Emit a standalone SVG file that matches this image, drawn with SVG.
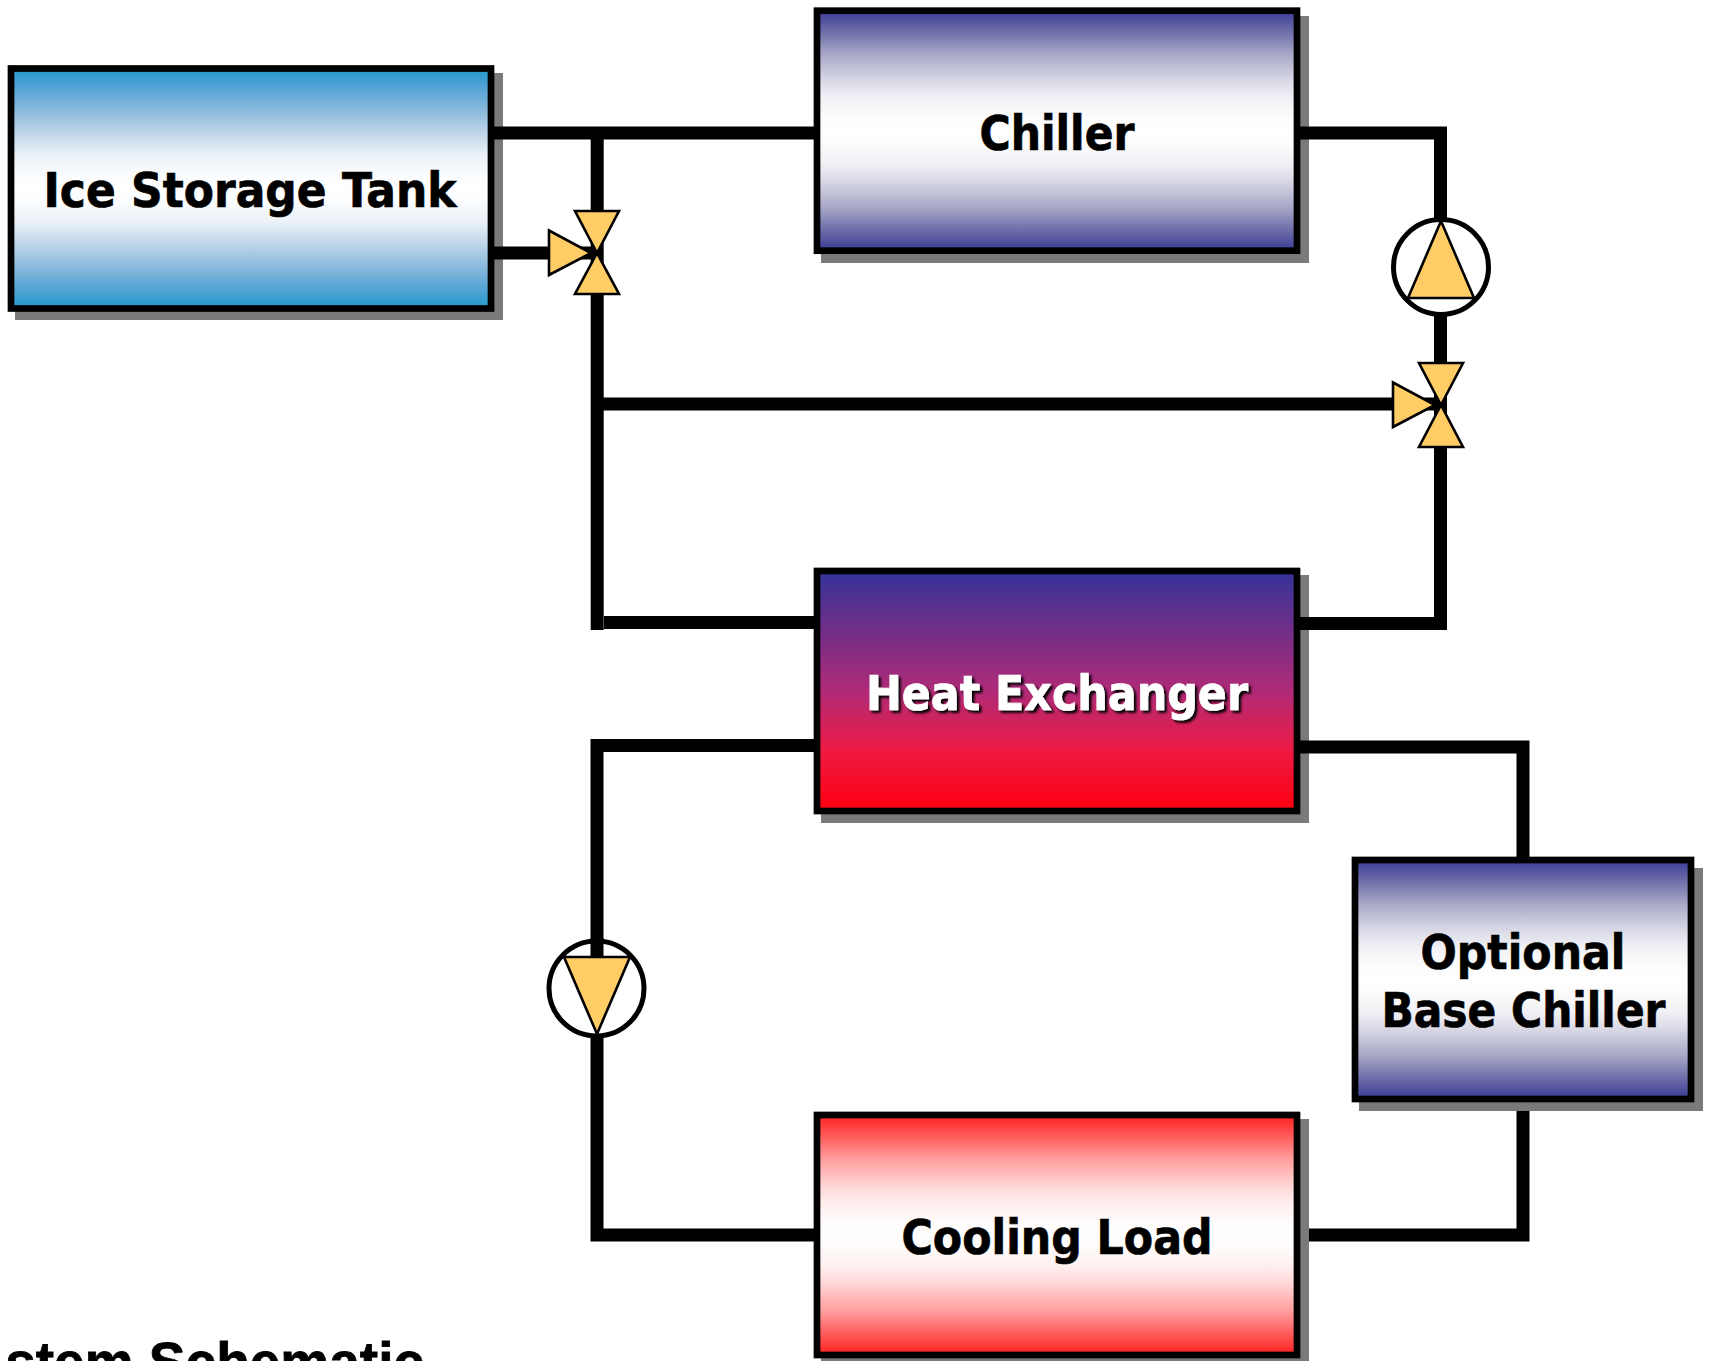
<svg xmlns="http://www.w3.org/2000/svg" width="1714" height="1361" viewBox="0 0 1714 1361">
<style>
.shadow{fill:#7a7a7a}
.box{stroke:#000;stroke-width:6.7}
.lbl{font-family:"DejaVu Sans","Liberation Sans",sans-serif;font-weight:700;font-size:48px;text-anchor:middle;fill:#000;stroke:#000;stroke-width:.7}
.pipe{fill:none;stroke:#000;stroke-width:13;stroke-linejoin:miter}
.tri{fill:#ffcc66;stroke:#000;stroke-width:2.6}
.pc{fill:#fff;stroke:#000;stroke-width:5}
</style>
<defs>
<linearGradient id="gIce" x1="0" y1="0" x2="0" y2="1"><stop offset="0" stop-color="#2299cc"/><stop offset=".083" stop-color="#55a4d4"/><stop offset=".183" stop-color="#8fbcdd"/><stop offset=".3" stop-color="#cfdfee"/><stop offset=".37" stop-color="#eef3f8"/><stop offset=".45" stop-color="#fbfcfe"/><stop offset=".5" stop-color="#fff"/><stop offset=".55" stop-color="#fbfcfe"/><stop offset=".63" stop-color="#eef3f8"/><stop offset=".7" stop-color="#cfdfee"/><stop offset=".817" stop-color="#8fbcdd"/><stop offset=".917" stop-color="#55a4d4"/><stop offset="1" stop-color="#2299cc"/></linearGradient>
<linearGradient id="gBlue" x1="0" y1="0" x2="0" y2="1"><stop offset="0" stop-color="#3b3a96"/><stop offset=".083" stop-color="#6b6ba8"/><stop offset=".183" stop-color="#a9a8c8"/><stop offset=".3" stop-color="#dcdce8"/><stop offset=".37" stop-color="#f2f2f6"/><stop offset=".45" stop-color="#fcfcfd"/><stop offset=".5" stop-color="#fff"/><stop offset=".55" stop-color="#fcfcfd"/><stop offset=".63" stop-color="#f2f2f6"/><stop offset=".7" stop-color="#dcdce8"/><stop offset=".817" stop-color="#a9a8c8"/><stop offset=".917" stop-color="#6b6ba8"/><stop offset="1" stop-color="#3b3a96"/></linearGradient>
<linearGradient id="gRed" x1="0" y1="0" x2="0" y2="1"><stop offset="0" stop-color="#ff2020"/><stop offset=".083" stop-color="#ff5757"/><stop offset=".183" stop-color="#ff9d9d"/><stop offset=".3" stop-color="#ffd7d7"/><stop offset=".37" stop-color="#ffefef"/><stop offset=".45" stop-color="#fffbfb"/><stop offset=".5" stop-color="#fff"/><stop offset=".55" stop-color="#fffbfb"/><stop offset=".63" stop-color="#ffefef"/><stop offset=".7" stop-color="#ffd7d7"/><stop offset=".817" stop-color="#ff9d9d"/><stop offset=".917" stop-color="#ff5757"/><stop offset="1" stop-color="#ff2020"/></linearGradient>
<linearGradient id="gHx" x1="0" y1="0" x2="0" y2="1"><stop offset="0" stop-color="#333399"/><stop offset=".5" stop-color="#b02a78"/><stop offset=".75" stop-color="#ee1a42"/><stop offset="1" stop-color="#ff0010"/></linearGradient>
<filter id="ts" x="-5%" y="-20%" width="110%" height="140%"><feDropShadow dx="2.5" dy="2.5" stdDeviation="1" flood-color="#000"/></filter>
</defs>

<g id="tank">
<rect class="shadow" x="15" y="73" width="488" height="247"/>
<rect class="box" x="11" y="68.5" width="480" height="240" fill="url(#gIce)"/>
<text class="lbl" x="250" y="207" textLength="413" lengthAdjust="spacingAndGlyphs">Ice Storage Tank</text>
</g>
<g id="chiller">
<rect class="shadow" x="821" y="16" width="488" height="247"/>
<rect class="box" x="817" y="10.7" width="480" height="240" fill="url(#gBlue)"/>
<text class="lbl" x="1057" y="150" textLength="155" lengthAdjust="spacingAndGlyphs">Chiller</text>
</g>
<g id="heat-exchanger">
<rect class="shadow" x="821" y="575" width="488" height="248"/>
<rect class="box" x="817" y="571" width="480" height="240" fill="url(#gHx)"/>
<text class="lbl" x="1057" y="710" textLength="382" lengthAdjust="spacingAndGlyphs" style="fill:#fff;stroke:#fff" filter="url(#ts)">Heat Exchanger</text>
</g>
<g id="base-chiller">
<rect class="shadow" x="1359" y="868" width="344" height="243"/>
<rect class="box" x="1355" y="860" width="336" height="239" fill="url(#gBlue)"/>
<text class="lbl" x="1523" y="969" textLength="205" lengthAdjust="spacingAndGlyphs">Optional</text>
<text class="lbl" x="1523.5" y="1027" textLength="284" lengthAdjust="spacingAndGlyphs">Base Chiller</text>
</g>
<g id="cooling-load">
<rect class="shadow" x="821" y="1119" width="488" height="242"/>
<rect class="box" x="817" y="1115" width="480" height="240" fill="url(#gRed)"/>
<text class="lbl" x="1057" y="1254" textLength="311" lengthAdjust="spacingAndGlyphs">Cooling Load</text>
</g>

<g id="connectors">
<path class="pipe" d="M494 133H817"/>
<path class="pipe" d="M597.2 133V630"/>
<path class="pipe" d="M494 253H597"/>
<path class="pipe" d="M597 404H1441"/>
<path class="pipe" d="M604 622.5H817"/>
<path class="pipe" d="M1300 133H1440.5V623.5H1300"/>
<path class="pipe" d="M817 745.5H597V1235H817"/>
<path class="pipe" d="M1300 747H1523V860"/>
<path class="pipe" d="M1309 1235H1523V1111"/>
</g>

<g id="valve-1">
<polygon class="tri" points="575,211 619,211 597,253"/>
<polygon class="tri" points="575,294 619,294 597,253"/>
<polygon class="tri" points="549,230.5 549,275 591,253"/>
</g>
<g id="valve-2">
<polygon class="tri" points="1419,363 1463,363 1441,405"/>
<polygon class="tri" points="1419,447 1463,447 1441,405"/>
<polygon class="tri" points="1393,382.5 1393,427 1435,405"/>
</g>
<g id="pump-1">
<circle class="pc" cx="1441" cy="267" r="47.5"/>
<polygon class="tri" points="1441,221 1408,298 1474,298"/>
</g>
<g id="pump-2">
<circle class="pc" cx="596.5" cy="988.5" r="47.5"/>
<path class="pipe" d="M597 938V960"/>
<polygon class="tri" points="597,1034 564,957 630,957"/>
</g>
<text x="424" y="1381" text-anchor="end" font-family="'Liberation Sans',Arial,sans-serif" font-weight="700" font-size="55" stroke="#000" stroke-width=".8">stem Schematic</text>
</svg>
